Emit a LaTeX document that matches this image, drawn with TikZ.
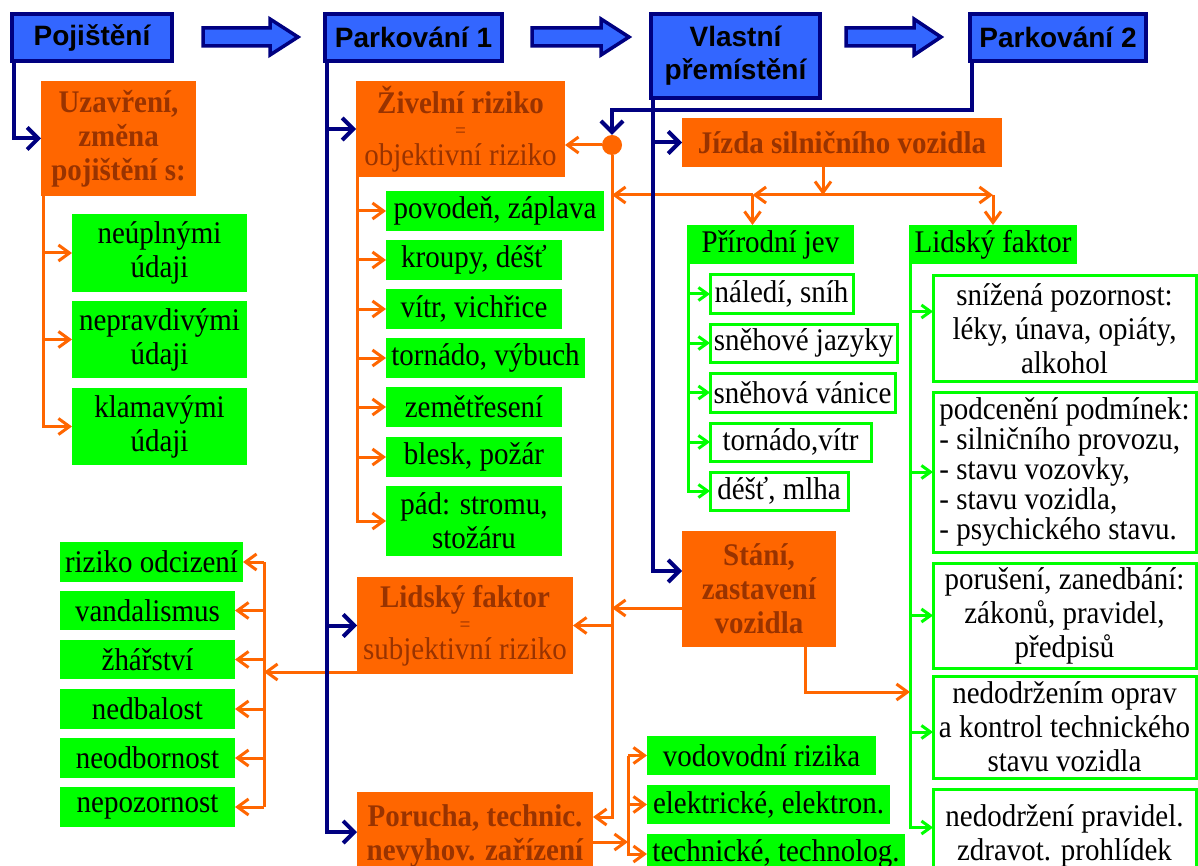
\documentclass[tikz,border=0pt]{standalone}
\usepackage{fontspec}
\setmainfont{Liberation Serif}[FakeStretch=0.92]
\setsansfont{Liberation Sans}
\usetikzlibrary{arrows.meta,calc}
\definecolor{navyc}{HTML}{000080}
\definecolor{hblue}{HTML}{3366FF}
\definecolor{orng}{HTML}{FF6600}
\definecolor{obrown}{HTML}{993300}
\definecolor{grn}{HTML}{00FF00}
\newcommand\bx[7]{\node[#1, minimum width={(#5-#3)*1pt}, minimum height={(#6-#4)*1pt}] (#2) at ({(#3+#5)/2},{(#4+#6)/2}) {#7};}
\newcommand\blkarrow[3]{\draw[blk] (#1,28) -- (#2,28) -- (#2,19) -- (#3,37) -- (#2,55) -- (#2,46) -- (#1,46) -- cycle;}
\begin{document}
\begin{tikzpicture}[x=1pt,y=-1pt,
  base/.style={inner sep=0pt, outer sep=0pt, align=center, anchor=center},
  hdr/.style={base, draw=navyc, line width=4pt, fill=hblue, font=\sffamily\bfseries\fontsize{28}{33}\selectfont},
  obox/.style={base, fill=orng, text=obrown, font=\fontsize{31.5}{34}\selectfont},
  ob/.style={obox, font=\bfseries\fontsize{31.5}{34}\selectfont},
  gbox/.style={base, fill=grn, text=black, font=\fontsize{31.5}{34}\selectfont},
  wbox/.style={base, draw=grn, line width=3pt, fill=white, text=black, font=\fontsize{31.5}{34}\selectfont},
  nline/.style={draw=navyc, line width=4pt},
  narr/.style={nline, -{Straight Barb[length=11pt,width=22pt]}},
  oline/.style={draw=orng, line width=3pt},
  oarr/.style={oline, -{Straight Barb[length=11pt,width=16pt]}},
  garr/.style={draw=grn, line width=3pt, -{Straight Barb[length=9pt,width=13pt]}},
  blk/.style={draw=navyc, line width=3.5pt, fill=hblue, line join=miter},
]
\useasboundingbox[fill=white] (0,0) rectangle (1198,866);

% headers
\bx{hdr}{poj}{12}{14}{172}{61}{Pojištění}
\bx{hdr}{p1}{325}{14}{502}{61}{Parkování 1}
\bx{hdr}{vp}{651}{14}{820}{98}{Vlastní\\přemístění}
\bx{hdr}{p2}{970}{14}{1146}{61}{Parkování 2}
\blkarrow{203}{270}{298}
\blkarrow{532}{601}{629}
\blkarrow{846}{914}{941}

% orange boxes
\bx{ob}{uz}{41}{81}{196}{196}{Uzavření,\\změna\\pojištění s:}
\bx{ob}{zi}{356}{81}{565}{177}{Živelní riziko\\[-10pt]{\mdseries\fontsize{21}{22}\selectfont =}\\[-6pt]{\mdseries objektivní riziko}}
\bx{ob}{jz}{682}{118}{1002}{167}{Jízda silničního vozidla}
\bx{ob}{lf}{357}{577}{573}{674}{Lidský faktor\\[-10pt]{\mdseries\fontsize{21}{22}\selectfont =}\\[-6pt]{\mdseries subjektivní riziko}}
\bx{ob}{st}{682}{531}{836}{647}{Stání,\\zastavení\\vozidla}
\bx{ob}{po}{357}{792}{593}{880}{Porucha, technic.\\nevyhov. zařízení}

% green boxes left
\bx{gbox}{g1}{72}{214}{247}{292}{neúplnými\\údaji}
\bx{gbox}{g2}{72}{301}{247}{378}{nepravdivými\\údaji}
\bx{gbox}{g3}{72}{388}{247}{465}{klamavými\\údaji}

% Zivelni children
\bx{gbox}{z1}{386}{191}{604}{231}{povodeň, záplava}
\bx{gbox}{z2}{386}{240}{562}{280}{kroupy, déšť}
\bx{gbox}{z3}{386}{289}{562}{329}{vítr, vichřice}
\bx{gbox}{z4}{386}{338}{585}{378}{tornádo, výbuch}
\bx{gbox}{z5}{386}{387}{562}{427}{zemětřesení}
\bx{gbox}{z6}{386}{437}{562}{477}{blesk, požár}
\bx{gbox}{z7}{386}{486}{562}{556}{pád: stromu,\\stožáru}

% Lidsky faktor children
\bx{gbox}{l1}{60}{542}{243}{582}{riziko odcizení}
\bx{gbox}{l2}{60}{591}{235}{630}{vandalismus}
\bx{gbox}{l3}{60}{640}{235}{679}{žhářství}
\bx{gbox}{l4}{60}{689}{235}{729}{nedbalost}
\bx{gbox}{l5}{60}{738}{235}{778}{neodbornost}
\bx{gbox}{l6}{60}{787}{235}{827}{nepozornost}

% Porucha children
\bx{gbox}{r1}{647}{736}{876}{775}{vodovodní rizika}
\bx{gbox}{r2}{647}{785}{890}{824}{elektrické, elektron.}
\bx{gbox}{r3}{647}{834}{905}{874}{technické, technolog.}

% Prirodni jev
\bx{gbox}{pj}{687}{225}{854}{264}{Přírodní jev}
\bx{wbox}{n1}{710}{275}{853}{313}{náledí, sníh}
\bx{wbox}{n2}{710}{324}{897}{362}{sněhové jazyky}
\bx{wbox}{n3}{710}{373}{895}{412}{sněhová vánice}
\bx{wbox}{n4}{710}{423}{871}{461}{tornádo,vítr}
\bx{wbox}{n5}{710}{472}{848}{510}{déšť, mlha}

% Lidsky faktor right
\bx{gbox}{lk}{909}{225}{1077}{264}{Lidský faktor}
\bx{wbox}{w1}{933}{276}{1196}{381}{snížená pozornost:\\léky, únava, opiáty,\\alkohol}
\bx{wbox, align=left, font=\fontsize{31.5}{30}\selectfont}{w2}{933}{392}{1196}{552}{podcenění podmínek:\\- silničního provozu,\\- stavu vozovky,\\- stavu vozidla,\\- psychického stavu.}
\bx{wbox}{w3}{933}{563}{1196}{668}{porušení, zanedbání:\\zákonů, pravidel,\\předpisů}
\bx{wbox}{w4}{933}{676}{1196}{778}{nedodržením oprav\\a kontrol technického\\stavu vozidla}
\bx{wbox}{w5}{933}{789}{1196}{882}{nedodržení pravidel.\\zdravot. prohlídek}

\node[circle, fill=orng, minimum size=20pt, inner sep=0pt] (dot) at (612,145) {};

% ---- orange connectors
\coordinate (ut) at ([xshift=2pt]uz.south west);
\draw[oarr] (ut) |- (g3.west);
\draw[oarr] (g1.west -| ut) -- (g1.west);
\draw[oarr] (g2.west -| ut) -- (g2.west);

\coordinate (zt) at ([xshift=1pt]zi.south west);
\draw[oarr] (zt) |- (z7.west);
\foreach \n in {z1,z2,z3,z4,z5,z6}{\draw[oarr] (\n.west -| zt) -- (\n.west);}

\draw[oarr] (dot.west) -- (dot.west -| zi.east);
\coordinate (poin) at ([yshift=19pt]po.east);
\draw[oarr] (dot.south) |- (poin);

\coordinate (jtop) at ([xshift=-19pt]jz.south);
\coordinate (jn) at ([yshift=-28pt]jtop);
\coordinate (pjtop) at ([xshift=-18pt]pj.north);
\draw[oarr] (jn) -- (jn -| lk.north);
\draw[oarr] (jn -| lk.north) -- (lk.north);
\draw[oarr] (jn -| pjtop) -- (jn -| dot);
\draw[oarr] (jn) -- (jn -| pjtop);
\draw[oarr] (jn -| pjtop) -- (pjtop);
\draw[oarr] (jtop) -- (jn);

\coordinate (stout) at ([yshift=-19pt]st.west);
\draw[oarr] (stout) -- (stout -| dot);
\draw[oarr] (lf.east -| dot) -- (lf.east);

\coordinate (ltop) at ([xshift=21pt]l1.east);
\coordinate (lfout) at ([yshift=2pt]lf.south west);
\draw[oline] (ltop) -- (ltop |- l6.east);
\draw[oarr] (lfout) -- (lfout -| ltop);
\foreach \n in {l1,l2,l3,l4,l5,l6}{\draw[oarr] (\n.east -| ltop) -- (\n.east);}

\coordinate (poout) at ([yshift=-6pt]po.east);
\coordinate (pt) at ([xshift=-19pt]r1.west);
\draw[oarr] (poout) -- (poout -| pt);
\draw[oarr] (pt) |- (r3.west);
\draw[oarr] (pt) -- (r1.west);
\draw[oarr] (r2.west -| pt) -- (r2.west);

% ---- green connectors
\coordinate (pt2) at ([xshift=1pt]pj.south west);
\draw[garr] (pt2) |- (n5.west);
\foreach \n in {n1,n2,n3,n4}{\draw[garr] (\n.west -| pt2) -- (\n.west);}

\coordinate (gt) at ([xshift=1pt]lk.south west);
\coordinate (w1in) at ([yshift=17pt]w1.west);
\coordinate (w4in) at ([yshift=-5pt]w4.west);
\coordinate (w5in) at ([yshift=8pt]w5.west);
\draw[garr] (gt) |- (w5in);
\draw[garr] (w1in -| gt) -- (w1in);
\draw[garr] (w2.west -| gt) -- (w2.west);
\draw[garr] (w3.west -| gt) -- (w3.west);
\draw[garr] (w4in -| gt) -- (w4in);

\coordinate (sb) at ([xshift=46pt]st.south);
\coordinate (sc) at ([yshift=-45pt]sb);
\draw[oarr] (sb) -- (sc) -- (sc -| gt);

% ---- navy connectors
\coordinate (t0) at ([xshift=2pt]poj.south west);
\draw[narr] (t0) |- (uz.west);
\coordinate (t1) at ([xshift=2pt]p1.south west);
\coordinate (poleft) at ([yshift=4pt]po.west);
\draw[narr] (t1) |- (poleft);
\draw[narr] (zi.west -| t1) -- (zi.west);
\draw[narr] (lf.west -| t1) -- (lf.west);
\coordinate (t2) at ([xshift=2pt]vp.south west);
\coordinate (stin) at ([yshift=18pt]st.west);
\draw[narr] (t2) |- (stin);
\draw[narr] (jz.west -| t2) -- (jz.west);
\coordinate (t3) at ([xshift=2pt]p2.south west);
\coordinate (t3b) at ([yshift=-49pt]t3);
\draw[narr] (t3) -- (t3b) -| (dot.north);
\end{tikzpicture}
\end{document}
